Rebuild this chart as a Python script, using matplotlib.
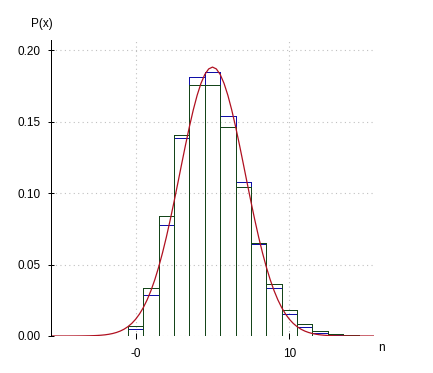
import numpy as np
import matplotlib
matplotlib.use("Agg")
from matplotlib import pyplot as plt

# values
k = list(range(16))
poisson = [0.00674, 0.03369, 0.08422, 0.14037, 0.17547, 0.17547, 0.14622, 0.10444,
           0.06528, 0.03627, 0.01813, 0.00824, 0.00343, 0.00132, 0.00047, 0.00016]
binom = [0.00515, 0.02863, 0.07794, 0.13857, 0.18090, 0.18492, 0.15410, 0.10763,
         0.06428, 0.03333, 0.01518, 0.00613, 0.00221, 0.00072, 0.00021, 0.00006]

# smooth curve, sampled every 0.25 from -5.5 to 15.5
curve_x = np.arange(-5.5, 15.51, 0.25)
curve_y = [0, 0, 0, 0, 0, 0.00001, 0.00002, 0.00004, 0.00006, 0.0001, 0.00015,
           0.00024, 0.00036, 0.00055, 0.00081, 0.00119, 0.00172, 0.00245, 0.00344,
           0.00477, 0.00653, 0.0088, 0.01169, 0.01533, 0.01982, 0.02528, 0.03178,
           0.03942, 0.04821, 0.05816, 0.06918, 0.08117, 0.09391, 0.10715, 0.12058,
           0.13382, 0.14646, 0.15809, 0.16828, 0.17667, 0.18291, 0.18676, 0.18806,
           0.18676, 0.18291, 0.17667, 0.16828, 0.15809, 0.14646, 0.13382, 0.12058,
           0.10715, 0.09391, 0.08117, 0.06918, 0.05816, 0.04821, 0.03942, 0.03178,
           0.02528, 0.01982, 0.01533, 0.01169, 0.0088, 0.00653, 0.00477, 0.00344,
           0.00245, 0.00172, 0.00119, 0.00081, 0.00055, 0.00036, 0.00024, 0.00015,
           0.0001, 0.00006, 0.00004, 0.00002, 0.00001, 0, 0, 0, 0, 0]

x_ticks = [0, 10]
x_tick_labels = ["-0", "10"]
y_ticks = [0.0, 0.05, 0.10, 0.15, 0.20]
y_tick_labels = ["0.00", "0.05", "0.10", "0.15", "0.20"]

plt.rcParams['font.family'] = ['Liberation Sans', 'DejaVu Sans']
plt.rcParams['font.size'] = 8.5

fig = plt.figure(figsize=(4.33, 3.73), dpi=100)
ax = fig.add_axes([51 / 433, 37 / 373, 323 / 433, 296 / 373])

blue = '#1010a8'
green = '#15451a'
red = '#b01020'
px = 0.72  # one pixel

ax.bar(k, binom, width=1, fill=False, edgecolor=blue, linewidth=px, antialiased=False)
ax.bar(k, poisson, width=1, fill=False, edgecolor=green, linewidth=px, antialiased=False)
ax.plot(curve_x, curve_y, color=red, linewidth=0.9)
ax.plot([-0.5, 15.5], [0, 0], color=blue, linewidth=px, antialiased=False)

ax.set_xlim(-5.5, 15.5)
ax.set_ylim(0, 0.207)
ax.set_xticks(x_ticks)
ax.set_xticklabels(x_tick_labels)
ax.set_yticks(y_ticks)
ax.set_yticklabels(y_tick_labels)
ax.tick_params(direction='inout', length=5, width=px, pad=5)
ax.tick_params(axis='x', pad=6)

ax.grid(True, linestyle=(0, (1, 3)), color='#c0c0c0', linewidth=0.8)
ax.set_axisbelow(True)

for s in ['top', 'right', 'bottom']:
    ax.spines[s].set_visible(False)
ax.spines['left'].set_linewidth(px)
ax.spines['left'].set_antialiased(False)

fig.text(42 / 433, 1 - 24 / 373, "P(x)", ha='center', va='center')
fig.text(381 / 433, 1 - 348 / 373, "n", ha='center', va='center')

fig.savefig("out.png", dpi=100)
